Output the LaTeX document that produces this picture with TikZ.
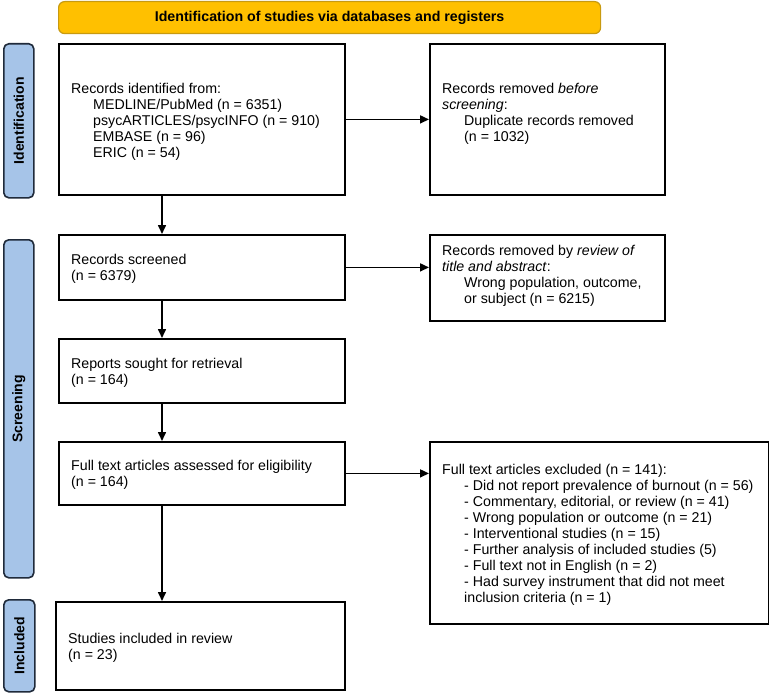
\documentclass[tikz,border=0pt]{standalone}
\usepackage{fontspec}
\setmainfont{Liberation Sans}
\usetikzlibrary{arrows.meta}
\definecolor{bannerfill}{HTML}{FFC000}
\definecolor{bannerdraw}{HTML}{C89A10}
\definecolor{sidefill}{HTML}{A6C4E8}
\definecolor{sidedraw}{HTML}{1F2A3A}
\tikzset{
  box/.style={draw=black, line width=1.8pt, fill=white, inner sep=0pt, anchor=north west},
  txt/.style={anchor=north west, inner sep=0pt, align=left, font=\fontsize{14.2}{16}\selectfont},
  side/.style={draw=sidedraw, fill=sidefill, line width=1.6pt, rounded corners=5pt, inner sep=0pt, anchor=north west},
  sidetxt/.style={rotate=90, font=\fontsize{14}{16}\selectfont\bfseries, inner sep=0pt},
  arr/.style={line width=1.6pt, -{Triangle[length=9pt,width=8pt]}}
}
\newcommand{\ind}{\hspace*{22pt}}
\begin{document}
\begin{tikzpicture}[x=1pt,y=-1pt]
\useasboundingbox (0,0) rectangle (769,693);
% banner
\node[draw=bannerdraw, fill=bannerfill, line width=1.2pt, rounded corners=6pt, inner sep=0pt,
      minimum width=542pt, minimum height=32pt, anchor=north west,
      font=\fontsize{14.2}{16}\selectfont\bfseries] (banner) at (58,1)
      {Identification of studies via databases and registers};
% side labels
\node[side, minimum width=30pt, minimum height=154pt] (sid) at (3,43) {};
\node[sidetxt] (sidt) at (sid.center) {Identification};
\node[side, minimum width=30pt, minimum height=338pt] (ssc) at (3,239) {};
\node[sidetxt] (ssct) at (ssc.center) {Screening};
\node[side, minimum width=31pt, minimum height=92pt] (sin) at (3,599) {};
\node[sidetxt] (sint) at (sin.center) {Included};
% boxes
\node[box, minimum width=286pt, minimum height=151pt] (b1) at (58,43) {};
\node[txt] (t1) at (71,83) {Records identified from:\\
\ind MEDLINE/PubMed (n = 6351)\\
\ind psycARTICLES/psycINFO (n = 910)\\
\ind EMBASE (n = 96)\\
\ind ERIC (n = 54)};
\node[box, minimum width=235pt, minimum height=151pt] (b2) at (429,43) {};
\node[txt] (t2) at (442,83) {Records removed \textit{before}\\
\textit{screening}:\\
\ind Duplicate records removed\\
\ind (n = 1032)};
\node[box, minimum width=286pt, minimum height=65pt] (b3) at (58,234) {};
\node[txt] (t3) at (71,254) {Records screened\\(n = 6379)};
\node[box, minimum width=235pt, minimum height=86pt] (b4) at (429,234) {};
\node[txt] (t4) at (442,245) {Records removed by \textit{review of}\\
\textit{title and abstract}:\\
\ind Wrong population, outcome,\\
\ind or subject (n = 6215)};
\node[box, minimum width=286pt, minimum height=64pt] (b5) at (58,338) {};
\node[txt] (t5) at (71,358) {Reports sought for retrieval\\(n = 164)};
\node[box, minimum width=286pt, minimum height=63pt] (b6) at (58,441) {};
\node[txt] (t6) at (71,460) {Full text articles assessed for eligibility\\(n = 164)};
\node[box, minimum width=339pt, minimum height=182pt] (b7) at (429,441) {};
\node[txt] (t7) at (442,464) {Full text articles excluded (n = 141):\\
\ind - Did not report prevalence of burnout (n = 56)\\
\ind - Commentary, editorial, or review (n = 41)\\
\ind - Wrong population or outcome (n = 21)\\
\ind - Interventional studies (n = 15)\\
\ind - Further analysis of included studies (5)\\
\ind - Full text not in English (n = 2)\\
\ind - Had survey instrument that did not meet\\
\ind inclusion criteria (n = 1)};
\node[box, minimum width=289pt, minimum height=88pt] (b8) at (55,601) {};
\node[txt] (t8) at (68,633) {Studies included in review\\(n = 23)};
% connectors
\coordinate (xc) at (162,0);
\draw[arr] (b1.east) -- (b2.west);
\draw[arr] (b3.east) -- (b3.east -| b4.west);
\draw[arr] (b6.east) -- (b6.east -| b7.west);
\draw[arr] (b1.south -| xc) -- (b3.north -| xc);
\draw[arr] (b3.south -| xc) -- (b5.north -| xc);
\draw[arr] (b5.south -| xc) -- (b6.north -| xc);
\draw[arr] (b6.south -| xc) -- (b8.north -| xc);
\end{tikzpicture}
\end{document}
